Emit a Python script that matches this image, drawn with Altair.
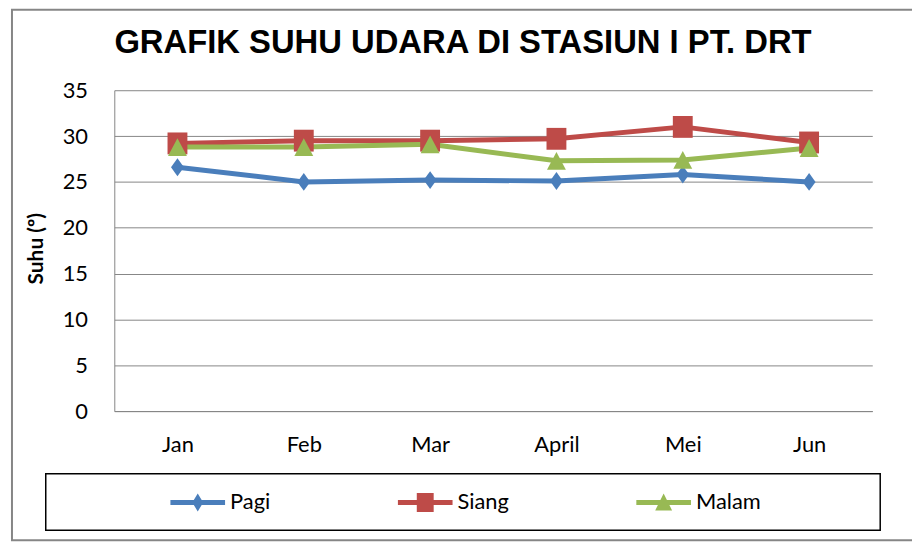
import altair as alt
import pandas as pd

# ---- data ----
months = ["Jan", "Feb", "Mar", "April", "Mei", "Jun"]
series = ["Pagi", "Siang", "Malam"]
pagi = [26.6, 25.0, 25.2, 25.1, 25.8, 25.0]
siang = [29.2, 29.5, 29.5, 29.7, 31.0, 29.3]
malam = [28.8, 28.8, 29.1, 27.3, 27.4, 28.7]
colors = ["#4A7EBB", "#BE4B48", "#98B954"]
y_ticks = [0, 5, 10, 15, 20, 25, 30, 35]

rows = []
for name, vals in zip(series, [pagi, siang, malam]):
    for i, (m, v) in enumerate(zip(months, vals)):
        rows.append({"bulan": m, "seri": name, "suhu": v, "idx": i})
df = pd.DataFrame(rows)

# marker shapes (Excel-like) and legend symbols (line + marker)
marker_paths = [
    "M0,-0.9L0.65,0L0,0.9L-0.65,0Z",
    "M-1,-1.1L1,-1.1L1,1.1L-1,1.1Z",
    "M0,-0.9L0.95,0.9L-0.95,0.9Z",
]
seg = "M-2.75,-0.25L2.75,-0.25L2.75,0.25L-2.75,0.25Z"
legend_paths = [
    seg + "M0,-0.9L0.55,0L0,0.9L-0.55,0Z",
    seg + "M-0.85,-0.95L0.85,-0.95L0.85,0.95L-0.85,0.95Z",
    seg + "M0,-0.9L0.85,0.8L-0.85,0.8Z",
]

FONT = "Lato"
GRID = "#868686"

x_enc = alt.X(
    "bulan:N",
    sort=months,
    scale=alt.Scale(type="point", domain=months, range=[103, 866], padding=0.5),
    axis=alt.Axis(
        title=None, orient="bottom", offset=-130, ticks=False, grid=False,
        domainColor=GRID, domainWidth=1, labelPadding=24, labelAngle=0,
        labelFont=FONT, labelFontSize=22, labelColor="black",
    ),
)
y_enc = alt.Y(
    "suhu:Q",
    scale=alt.Scale(domain=[0, 35], range=[404, 81], nice=False, zero=False),
    axis=alt.Axis(
        title="Suhu (º)", orient="left", offset=-103, values=y_ticks, ticks=False,
        grid=True, gridColor=GRID, gridWidth=1, gridOpacity=1,
        domainColor=GRID, domainWidth=1, labelPadding=27,
        labelFont=FONT, labelFontSize=22, labelColor="black",
        titleFont=FONT, titleFontSize=21, titleFontWeight="bold", titleColor="black",
        titleAngle=270, titleAlign="center", titleBaseline="middle",
        titleX=-78, titleY=240,
    ),
)


def color_enc(legend):
    return alt.Color("seri:N", scale=alt.Scale(domain=series, range=colors), legend=legend)


base = alt.Chart(df)

lines = base.mark_line(strokeWidth=5).encode(
    x=x_enc, y=y_enc, color=color_enc(None), order=alt.Order("idx:Q")
)

points = base.mark_point(filled=True, size=400, opacity=1, strokeWidth=0).encode(
    x=x_enc, y=y_enc, color=color_enc(None),
    shape=alt.Shape("seri:N", scale=alt.Scale(domain=series, range=marker_paths), legend=None),
)

leg = alt.Legend(
    title="\u00a0", titleOrient="left", titlePadding=124, titleFontSize=22, titleFont=FONT,
    orient="none", legendX=34, legendY=467, direction="horizontal", columns=3,
    columnPadding=127, padding=18,
    symbolSize=400, symbolStrokeWidth=0, symbolOpacity=1, labelOffset=21.5,
    labelFont=FONT, labelFontSize=22, labelColor="black",
)

legend_layer = base.transform_filter("false").mark_point(filled=True, opacity=1).encode(
    x=x_enc, y=y_enc,
    color=color_enc(leg),
    shape=alt.Shape("seri:N", scale=alt.Scale(domain=series, range=legend_paths), legend=leg),
)

# frame drawn around the legend (decoration)
legend_box = alt.Chart(pd.DataFrame({"k": [0]})).mark_rect(
    filled=False, stroke="black", strokeWidth=1.5
).encode(x=alt.value(34), x2=alt.value(874), y=alt.value(467), y2=alt.value(524))

chart = (
    alt.layer(lines, points, legend_layer, legend_box)
    .resolve_scale(shape="independent", color="independent")
    .properties(
        width=908,
        height=534,
        padding={"left": 4, "top": 0, "right": -2, "bottom": 0},
        autosize=alt.AutoSizeParams(type="none"),
        title=alt.Title(
            "GRAFIK SUHU  UDARA DI STASIUN I PT. DRT",
            font="Liberation Sans", fontSize=33, fontWeight="bold", color="black",
            anchor="middle", frame="group", offset=-77, baseline="alphabetic",
        ),
    )
    .configure_view(stroke=GRID, strokeWidth=2)
)

chart.save("out.html", embed_options={"renderer": "svg", "actions": False})
